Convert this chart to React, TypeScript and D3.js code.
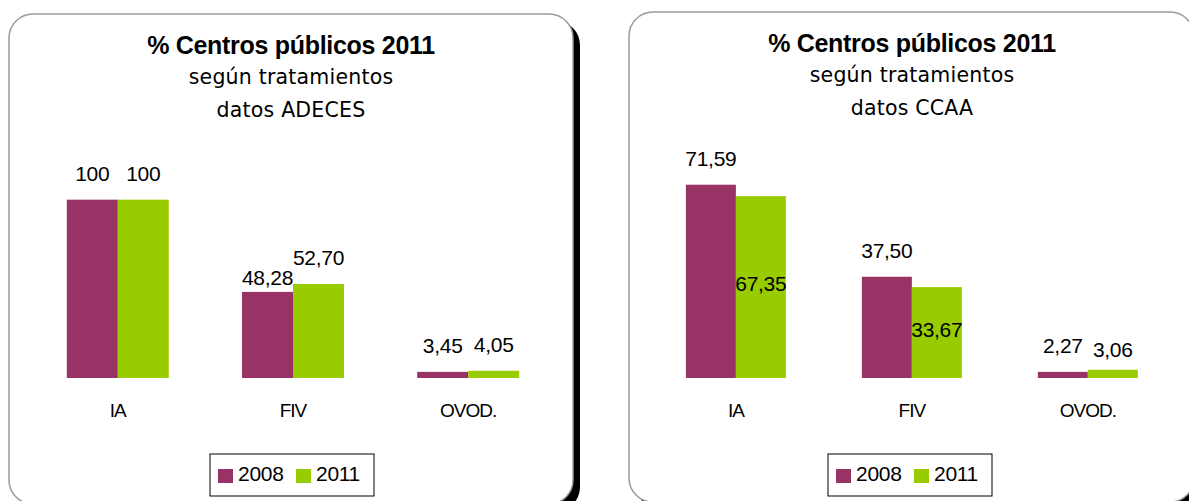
import React from "react";
import * as d3 from "d3";

const categories = ["IA", "FIV", "OVOD."];
const seriesNames = ["2008", "2011"];
const seriesColors = ["#993366", "#99CC00"];

const adeces2008 = [100, 48.28, 3.45];
const adeces2011 = [100, 52.7, 4.05];
const ccaa2008 = [71.59, 37.5, 2.27];
const ccaa2011 = [67.35, 33.67, 3.06];

const titleLine = "% Centros públicos 2011";
const subtitleLine = "según tratamientos";
const adecesSource = "datos ADECES";
const ccaaSource = "datos CCAA";

const fmt = (v: number) =>
  Number.isInteger(v) ? String(v) : v.toFixed(2).replace(".", ",");

type PanelProps = {
  px: number;
  py: number;
  pw: number;
  ph: number;
  cx: number;
  titleY: number[];
  source: string;
  xRange: [number, number];
  padInner: number;
  padOuter: number;
  yTop: number;
  yBase: number;
  yMax: number;
  series: number[][];
  nudges: number[][];
  legendX: number;
};

function Panel(p: PanelProps) {
  const x = d3
    .scaleBand<string>()
    .domain(categories)
    .range(p.xRange)
    .paddingInner(p.padInner)
    .paddingOuter(p.padOuter);
  const xs = d3
    .scaleBand<string>()
    .domain(seriesNames)
    .range([0, x.bandwidth()]);
  const y = d3.scaleLinear().domain([0, p.yMax]).range([p.yBase, p.yTop]);
  const r = 24;
  const sans = "'Liberation Sans', Arial, sans-serif";
  const dv = "'DejaVu Sans', Verdana, sans-serif";
  return (
    <g>
      <rect x={p.px + 7} y={p.py + 7} width={p.pw} height={p.ph} rx={r} ry={r} fill="#000" />
      <rect x={p.px} y={p.py} width={p.pw} height={p.ph} rx={r} ry={r} fill="#fff" stroke="#9a9a9a" strokeWidth={1.5} />
      <text x={p.cx} y={p.titleY[0]} textAnchor="middle" fontFamily={sans} fontWeight="bold" fontSize={25} letterSpacing={-0.3} fill="#000">
        {titleLine}
      </text>
      <text x={p.cx} y={p.titleY[1]} textAnchor="middle" fontFamily={dv} fontSize={20.5} letterSpacing={0.2} fill="#000">
        {subtitleLine}
      </text>
      <text x={p.cx} y={p.titleY[2]} textAnchor="middle" fontFamily={dv} fontSize={20.5} letterSpacing={0.2} fill="#000">
        {p.source}
      </text>
      {categories.map((c, i) => (
        <g key={c}>
          {seriesNames.map((s, j) => {
            const v = p.series[j][i];
            const bx = (x(c) || 0) + (xs(s) || 0);
            const top = y(v);
            return (
              <g key={s}>
                <rect x={bx} y={top} width={xs.bandwidth()} height={p.yBase - top} fill={seriesColors[j]} />
                <text
                  x={bx + xs.bandwidth() / 2}
                  y={top - 19 + p.nudges[j][i]}
                  textAnchor="middle"
                  fontFamily={sans}
                  fontSize={21}
                  letterSpacing={-0.3}
                  fill="#000"
                >
                  {fmt(v)}
                </text>
              </g>
            );
          })}
          <text
            x={(x(c) || 0) + x.bandwidth() / 2}
            y={p.yBase + 39}
            textAnchor="middle"
            fontFamily={sans}
            fontSize={19}
            letterSpacing={-1}
            fill="#000"
          >
            {c}
          </text>
        </g>
      ))}
      <g transform={`translate(${p.legendX},454)`}>
        <rect x={0} y={0} width={164} height={42} fill="#fff" stroke="#000" strokeWidth={1} />
        {seriesNames.map((s, j) => (
          <g key={s} transform={`translate(${8 + j * 78},0)`}>
            <rect x={0} y={15} width={15} height={14} fill={seriesColors[j]} />
            <text x={20} y={27} fontFamily={sans} fontSize={21} letterSpacing={-0.3} fill="#000">
              {s}
            </text>
          </g>
        ))}
      </g>
    </g>
  );
}

export default function App() {
  return (
    <svg
      width={1189}
      height={501}
      style={{ position: "fixed", left: 0, top: 0, background: "#fff" }}
    >
      <rect x={0} y={0} width={1189} height={501} fill="#fff" />
      <Panel
        px={9}
        py={14}
        pw={564}
        ph={490}
        cx={291}
        titleY={[54, 84, 117]}
        source={adecesSource}
        xRange={[30.2, 555.8]}
        padInner={0.418}
        padOuter={0.209}
        yTop={164}
        yBase={378}
        yMax={120}
        series={[adeces2008, adeces2011]}
        nudges={[
          [0, 12, 0],
          [0, 0, 0],
        ]}
        legendX={210}
      />
      <Panel
        px={629}
        py={12}
        pw={565}
        ph={490}
        cx={912}
        titleY={[52, 82, 115]}
        source={ccaaSource}
        xRange={[647.9, 1175.8]}
        padInner={0.432}
        padOuter={0.216}
        yTop={162}
        yBase={378}
        yMax={80}
        series={[ccaa2008, ccaa2011]}
        nudges={[
          [0, 0, 0],
          [114, 69, 6],
        ]}
        legendX={828}
      />
    </svg>
  );
}
